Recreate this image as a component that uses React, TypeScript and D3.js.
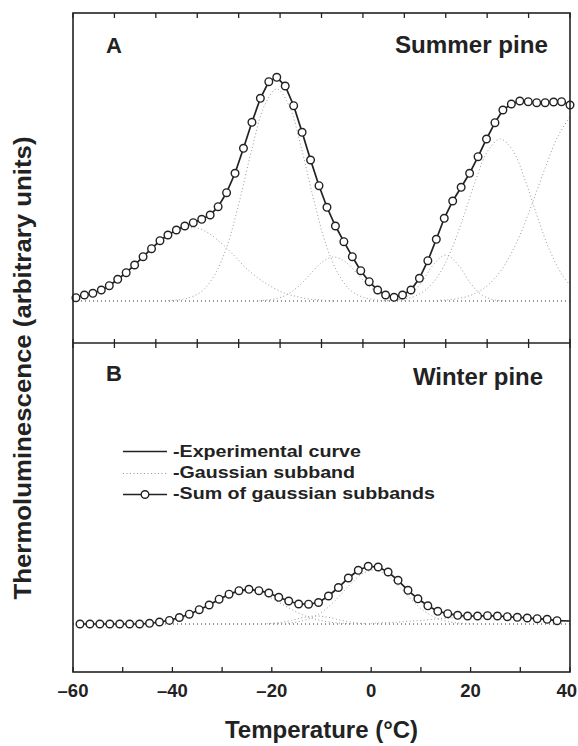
import React from "react";
import * as d3 from "d3";

// ---------- Panel A: summer pine ----------
const topTemps = [
  -59.4, -57.7, -56.0, -54.3, -52.7, -51.0, -49.3, -47.6, -45.9, -44.2,
  -42.5, -40.9, -39.2, -37.5, -35.8, -34.1, -32.4, -30.8, -29.1, -27.4,
  -25.7, -24.0, -22.3, -20.6, -19.0, -17.3, -15.6, -13.9, -12.2, -10.5,
  -8.9, -7.2, -5.5, -3.8, -2.1, -0.4, 1.3, 2.9, 4.6, 6.3,
  8.0, 9.7, 11.4, 13.1, 14.7, 16.4, 18.1, 19.8, 21.5, 23.2,
  24.9, 26.5, 28.2, 29.9, 31.6, 33.3, 35.0, 36.7, 38.3, 40.0,
];
const topSum = [
  3.3, 6, 7.7, 11, 15.3, 21.7, 28.3, 36, 44.3, 52.3,
  60.3, 66, 71, 75, 78.3, 81.7, 86, 94.3, 108.3, 127.7,
  152.7, 178.7, 202.7, 219.3, 223.7, 215, 195.3, 168.7, 141, 115.3,
  93.7, 75, 59.3, 44.3, 30.3, 19.3, 11, 6, 3.7, 6,
  11, 22.7, 40.3, 61.7, 82.7, 100, 113.7, 127.7, 144.3, 162,
  178.3, 191, 197, 200, 199.3, 198.3, 198.3, 199, 199.3, 196,
];
const topBand1: [number, number][] = [
  [-60, 3], [-57.5, 6], [-55, 10], [-52.5, 16], [-50, 24], [-47.5, 36], [-45, 48],
  [-42.5, 59], [-40, 67], [-37.5, 72], [-35, 73], [-32.5, 67], [-30, 57], [-27.5, 45],
  [-25, 32], [-22.5, 22], [-20, 14], [-17.5, 8], [-15, 4.5], [-12.5, 2], [-10, 1], [-7.5, 0],
];
const topBand2: [number, number][] = [
  [-41.5, 0.2], [-39, 1], [-36.5, 3.5], [-34, 10], [-31.5, 26], [-29, 55], [-26.5, 100],
  [-24, 152], [-21.5, 195], [-19, 212], [-16.5, 195], [-14, 152], [-11.5, 100], [-9, 55],
  [-6.5, 26], [-4, 10], [-1.5, 3.5], [1, 1], [3.5, 0.2],
];
const topBand3: [number, number][] = [
  [-22.5, 0.3], [-20, 1.5], [-17.5, 5], [-15, 13], [-12.5, 25.5], [-10, 38.4], [-7.5, 44],
  [-5, 38.4], [-2.5, 25.5], [0, 13], [2.5, 5], [5, 1.5], [7.5, 0.3],
];
const topBand4: [number, number][] = [
  [2.5, 0.1], [5, 1], [7.5, 5.3], [10, 17.6], [12.5, 36.2], [15, 46], [17.5, 36.2],
  [20, 17.6], [22.5, 5.3], [25, 1], [27.5, 0.1],
];
const topBand5: [number, number][] = [
  [3.5, 0.4], [6, 1.4], [8.5, 4.3], [11, 11.3], [13.5, 25.5], [16, 49.6], [18.5, 83.2],
  [21, 120.5], [23.5, 150.4], [26, 162], [28.5, 150.4], [31, 120.5], [33.5, 83.2],
  [36, 49.6], [38.5, 25.5], [40, 15.9],
];
const topBand6: [number, number][] = [
  [12.5, 0.4], [15, 1], [17.5, 2.5], [20, 5.7], [22.5, 12.1], [25, 23.4], [27.5, 41.4],
  [30, 66.9], [32.5, 98.8], [35, 133], [37.5, 164], [40, 184.5],
];

// ---------- Panel B: winter pine ----------
const bottomTemps = [
  -58.6, -56.6, -54.6, -52.6, -50.6, -48.6, -46.6, -44.6, -42.6, -40.6,
  -38.6, -36.6, -34.6, -32.6, -30.6, -28.6, -26.6, -24.6, -22.6, -20.6,
  -18.6, -16.6, -14.6, -12.6, -10.6, -8.6, -6.6, -4.6, -2.6, -0.6,
  1.4, 3.4, 5.4, 7.4, 9.4, 11.4, 13.4, 15.4, 17.4, 19.4,
  21.4, 23.4, 25.4, 27.4, 29.4, 31.4, 33.4, 35.4, 37.4,
];
const bottomSum = [
  0, 0, 0, 0, 0, 0, 0, 0.7, 2, 3.6,
  6.5, 9.8, 14.3, 19, 24.8, 29.8, 33.3, 34.7, 33.3, 31,
  26.7, 23, 20, 19.8, 21.5, 28, 36.5, 46, 53.7, 57.7,
  57, 52, 43.7, 33.7, 25.2, 18.2, 12.7, 10.3, 8.7, 8,
  8, 8.3, 8, 7.3, 6.7, 6, 5.3, 4.7, 3.3,
];
const bottomExpTail: [number, number] = [40, 3];
const bottomBand1: [number, number][] = [
  [-47.5, 0.2], [-45, 0.6], [-42.5, 1.4], [-40, 3.3], [-37.5, 6.7], [-35, 11.9], [-32.5, 18.6],
  [-30, 25.6], [-27.5, 31], [-25, 33], [-22.5, 31], [-20, 25.6], [-17.5, 18.6], [-15, 11.9],
  [-12.5, 6.7], [-10, 3.3], [-7.5, 1.4], [-5, 0.6], [-2.5, 0.2],
];
const bottomBand2: [number, number][] = [
  [-21, 0.35], [-18.5, 1.4], [-16, 3.7], [-13.5, 6.6], [-11, 8], [-8.5, 6.6], [-6, 3.7],
  [-3.5, 1.4], [-1, 0.35],
];
const bottomBand3: [number, number][] = [
  [-19.5, 0.2], [-17, 0.8], [-14.5, 2.4], [-12, 6.2], [-9.5, 13.5], [-7, 24.7], [-4.5, 38.2],
  [-2, 49.5], [0.5, 54], [3, 49.5], [5.5, 38.2], [8, 24.7], [10.5, 13.5], [13, 6.2],
  [15.5, 2.4], [18, 0.8], [20.5, 0.2],
];
const bottomBand4: [number, number][] = [
  [0, 0.7], [5, 1.8], [10, 3.6], [15, 5.7], [20, 7.5], [24, 8], [28, 7.5], [32, 6.1],
  [36, 4.4], [40, 2.8],
];

const xDomain: [number, number] = [-60, 40];
const xLabelTicks = [-60, -40, -20, 0, 20, 40];
const topTickDivisions = 12;

const legendItems = ["-Experimental curve", "-Gaussian subband", "-Sum of gaussian subbands"];
const legendLengths = [188, 182, 262];

const FONT = "'Liberation Sans', Arial, Helvetica, sans-serif";
const INK = "#222";

export default function App() {
  const W = 578;
  const H = 746;
  const left = 73, right = 570, top = 13, mid = 343, bottom = 672;

  const x = d3.scaleLinear().domain(xDomain).range([left, right]);
  const yTop = d3.scaleLinear().domain([-42, 288]).range([mid, top]);
  const yBot = d3.scaleLinear().domain([-48, 281]).range([bottom, mid]);

  const lineTop = d3.line<[number, number]>().x(d => x(d[0])).y(d => yTop(d[1]));
  const lineBot = d3.line<[number, number]>().x(d => x(d[0])).y(d => yBot(d[1]));
  const bandTop = d3.line<[number, number]>().x(d => x(d[0])).y(d => yTop(d[1])).curve(d3.curveCatmullRom);
  const bandBot = d3.line<[number, number]>().x(d => x(d[0])).y(d => yBot(d[1])).curve(d3.curveCatmullRom);

  const topPts: [number, number][] = topTemps.map((t, i) => [t, topSum[i]]);
  const botPts: [number, number][] = bottomTemps.map((t, i) => [t, bottomSum[i]]);
  const botExp: [number, number][] = [...botPts, bottomExpTail];

  const topBands = [topBand1, topBand2, topBand3, topBand4, topBand5, topBand6];
  const botBands = [bottomBand1, bottomBand2, bottomBand3, bottomBand4];

  const topTicks = d3.range(topTickDivisions + 1).map(k => xDomain[0] + (k * (xDomain[1] - xDomain[0])) / topTickDivisions);
  const bottomTicks = x.ticks(10);

  const bandStyle = { fill: "none", stroke: "#999", strokeWidth: 1, strokeDasharray: "1 2.5" };
  const baseStyle = { fill: "none", stroke: "#333", strokeWidth: 1, strokeDasharray: "1 3" };

  const legX0 = 123, legX1 = 167, legTextX = 173;
  const legBase = [457, 478, 499];

  return (
    <svg width={W} height={H} style={{ position: "absolute", left: 0, top: 0, background: "#fff" }}
      fontFamily={FONT} fontWeight="bold">
      <rect x={0} y={0} width={W} height={H} fill="#fff" />

      {/* baselines */}
      <line x1={x(-60)} x2={x(40)} y1={yTop(0)} y2={yTop(0)} style={baseStyle} />
      <line x1={x(-60)} x2={x(40)} y1={yBot(0)} y2={yBot(0)} style={baseStyle} />

      {/* gaussian subbands */}
      {topBands.map((b, i) => <path key={"tb" + i} d={bandTop(b) || ""} style={bandStyle} />)}
      {botBands.map((b, i) => <path key={"bb" + i} d={bandBot(b) || ""} style={bandStyle} />)}

      {/* experimental curves */}
      <path d={lineTop(topPts) || ""} fill="none" stroke={INK} strokeWidth={1.7} />
      <path d={lineBot(botExp) || ""} fill="none" stroke={INK} strokeWidth={1.7} />

      {/* sum of gaussian subbands */}
      {topPts.map((p, i) => (
        <circle key={"tc" + i} cx={x(p[0])} cy={yTop(p[1])} r={3.8} fill="#fff" stroke={INK} strokeWidth={1.4} />
      ))}
      {botPts.map((p, i) => (
        <circle key={"bc" + i} cx={x(p[0])} cy={yBot(p[1])} r={3.8} fill="#fff" stroke={INK} strokeWidth={1.4} />
      ))}

      {/* frame */}
      <rect x={left} y={top} width={right - left} height={bottom - top} fill="none" stroke={INK} strokeWidth={1.6} />
      <line x1={left} x2={right} y1={mid} y2={mid} stroke={INK} strokeWidth={1.6} />

      {/* ticks */}
      {topTicks.map((t, i) => (
        <g key={"tt" + i}>
          <line x1={x(t)} x2={x(t)} y1={top} y2={top + 5} stroke={INK} strokeWidth={1.3} />
          <line x1={x(t)} x2={x(t)} y1={mid - 4} y2={mid + 5} stroke={INK} strokeWidth={1.3} />
        </g>
      ))}
      {bottomTicks.map((t, i) => (
        <line key={"bt" + i} x1={x(t)} x2={x(t)} y1={bottom - 5} y2={bottom} stroke={INK} strokeWidth={1.3} />
      ))}
      {xLabelTicks.map((t, i) => {
        const isLast = i === xLabelTicks.length - 1;
        return (
          <text key={"tl" + i} x={isLast ? W - 1 : x(t)} y={697} textAnchor={isLast ? "end" : "middle"}
            fontSize={18.5} fill={INK}>
            {t < 0 ? "\u2013" + Math.abs(t) : String(t)}
          </text>
        );
      })}

      {/* axis titles */}
      <text x={(left + right) / 2} y={738} textAnchor="middle" fontSize={24} fill={INK}>Temperature (°C)</text>
      <text transform={`translate(31, 368) rotate(-90)`} textAnchor="middle" fontSize={23} fill={INK}
        textLength={463} lengthAdjust="spacingAndGlyphs">Thermoluminescence (arbitrary units)</text>

      {/* panel labels */}
      <text x={106} y={53} fontSize={22} fill={INK}>A</text>
      <text x={548} y={53} textAnchor="end" fontSize={23} fill={INK} textLength={153} lengthAdjust="spacingAndGlyphs">Summer pine</text>
      <text x={106} y={381} fontSize={22} fill={INK}>B</text>
      <text x={543} y={385} textAnchor="end" fontSize={23} fill={INK} textLength={130} lengthAdjust="spacingAndGlyphs">Winter pine</text>

      {/* legend */}
      <line x1={legX0} x2={legX1} y1={legBase[0] - 5.5} y2={legBase[0] - 5.5} stroke={INK} strokeWidth={1.5} />
      <line x1={legX0} x2={legX1} y1={legBase[1] - 4.5} y2={legBase[1] - 4.5} style={bandStyle} />
      <line x1={legX0} x2={legX1} y1={legBase[2] - 4.5} y2={legBase[2] - 4.5} stroke={INK} strokeWidth={1.5} />
      <circle cx={(legX0 + legX1) / 2} cy={legBase[2] - 4.5} r={3.8} fill="#fff" stroke={INK} strokeWidth={1.4} />
      {legendItems.map((s, i) => (
        <text key={"lg" + i} x={legTextX} y={legBase[i]} fontSize={17} fill={INK}
          textLength={legendLengths[i]} lengthAdjust="spacingAndGlyphs">{s}</text>
      ))}
    </svg>
  );
}
